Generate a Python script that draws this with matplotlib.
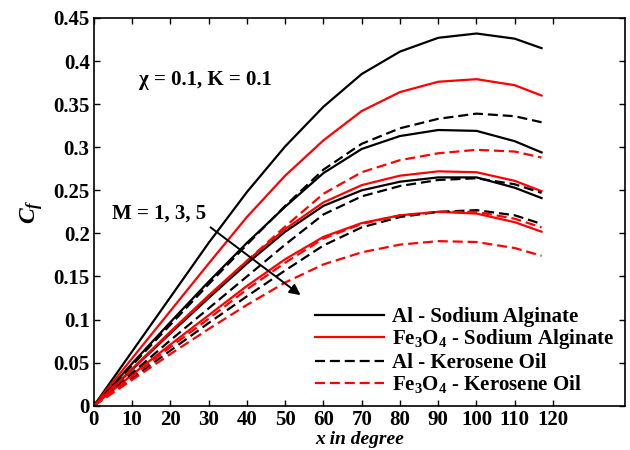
import numpy as np
import matplotlib
matplotlib.use("Agg")
import matplotlib.pyplot as plt

plt.rcParams['font.family'] = ['Liberation Serif', 'DejaVu Serif']
plt.rcParams['font.weight'] = 'bold'
plt.rcParams['mathtext.fontset'] = 'custom'
plt.rcParams['mathtext.rm'] = 'Liberation Serif:bold'
plt.rcParams['mathtext.it'] = 'Liberation Serif:italic'
plt.rcParams['mathtext.bf'] = 'Liberation Serif:bold'

# angle x in degree
x_deg = [0, 10, 20, 30, 40, 50, 60, 70, 80, 90, 100, 110, 117]

# skin friction, Al - Sodium Alginate, M = 1, 3, 5
al_sa = [
    [0, 0.063, 0.126, 0.189, 0.248, 0.301, 0.347, 0.385, 0.411, 0.427, 0.432, 0.426, 0.415],
    [0, 0.049, 0.097, 0.144, 0.189, 0.231, 0.270, 0.298, 0.313, 0.320, 0.319, 0.307, 0.294],
    [0, 0.042, 0.084, 0.125, 0.165, 0.202, 0.232, 0.250, 0.260, 0.265, 0.265, 0.253, 0.241],
]
# Fe3O4 - Sodium Alginate
fe_sa = [
    [0, 0.055, 0.110, 0.165, 0.219, 0.267, 0.308, 0.342, 0.364, 0.376, 0.379, 0.372, 0.360],
    [0, 0.043, 0.086, 0.128, 0.168, 0.205, 0.236, 0.256, 0.267, 0.272, 0.271, 0.261, 0.249],
    [0, 0.036, 0.071, 0.105, 0.139, 0.170, 0.196, 0.212, 0.221, 0.225, 0.223, 0.213, 0.202],
]
# Al - Kerosene Oil
al_ko = [
    [0, 0.047, 0.094, 0.141, 0.187, 0.232, 0.274, 0.304, 0.322, 0.333, 0.339, 0.336, 0.329],
    [0, 0.038, 0.076, 0.113, 0.150, 0.187, 0.222, 0.243, 0.255, 0.262, 0.264, 0.257, 0.247],
    [0, 0.032, 0.064, 0.096, 0.127, 0.157, 0.186, 0.207, 0.219, 0.225, 0.227, 0.221, 0.211],
]
# Fe3O4 - Kerosene Oil
fe_ko = [
    [0, 0.042, 0.085, 0.127, 0.168, 0.208, 0.246, 0.271, 0.285, 0.293, 0.297, 0.295, 0.288],
    [0, 0.034, 0.068, 0.101, 0.135, 0.166, 0.194, 0.211, 0.221, 0.225, 0.225, 0.217, 0.207],
    [0, 0.030, 0.060, 0.089, 0.117, 0.143, 0.164, 0.178, 0.187, 0.191, 0.190, 0.183, 0.174],
]

labels = ['Al - Sodium Alginate', 'Fe$_3$O$_4$ - Sodium Alginate',
          'Al - Kerosene Oil', 'Fe$_3$O$_4$ - Kerosene Oil']

fig = plt.figure(figsize=(6.3, 4.5), dpi=100)
ax = fig.add_axes([0.149, 0.0984, 0.843, 0.8616])

lw = 1.6
dash = (4.5, 2.2)
groups = [(al_sa, 'black', '-'), (fe_sa, 'red', '-'),
          (al_ko, 'black', '--'), (fe_ko, 'red', '--')]
handles = []
for data, col, ls in groups:
    for k, y in enumerate(data):
        if ls == '--':
            ln, = ax.plot(x_deg, y, color=col, lw=lw, dashes=dash)
        else:
            ln, = ax.plot(x_deg, y, color=col, lw=lw)
        if k == 0:
            handles.append(ln)

ax.set_xlim(0, 138.8)
ax.set_ylim(0, 0.45)
ax.set_xticks(np.arange(0, 121, 10))
yt = np.arange(0, 0.451, 0.05)
ax.set_yticks(yt)
ax.set_yticklabels([f'{v:g}' for v in np.round(yt, 2)])
ax.tick_params(direction='in', top=True, right=True, length=4, width=1,
               labelsize=15, pad=3)
for s in ax.spines.values():
    s.set_linewidth(1.2)

ax.set_xlabel('x in degree', fontsize=14, fontstyle='italic', fontweight='bold',
              labelpad=1)
ax.set_ylabel('$C_f$', fontsize=17, labelpad=6)

ax.text(11.8, 0.378, 'χ = 0.1, K = 0.1', fontsize=15, va='center', ha='left')
ax.text(4.7, 0.223, 'M = 1, 3, 5', fontsize=15, va='center', ha='left')
ax.annotate('', xy=(54.6, 0.1264), xytext=(29.9, 0.209),
            arrowprops=dict(arrowstyle='-|>', color='black', lw=1.4,
                            mutation_scale=16))

# two legend blocks: sodium alginate, then kerosene oil
leg_opts = dict(loc='upper left', frameon=False, fontsize=15, handlelength=3.3,
                handletextpad=0.4, borderpad=0, borderaxespad=0, labelspacing=0.0)
leg1 = ax.legend(handles[:2], labels[:2], bbox_to_anchor=(0.417, 0.255), **leg_opts)
ax.add_artist(leg1)
ax.legend(handles[2:], labels[2:], bbox_to_anchor=(0.417, 0.135), **leg_opts)

fig.savefig('out.png', dpi=100)
